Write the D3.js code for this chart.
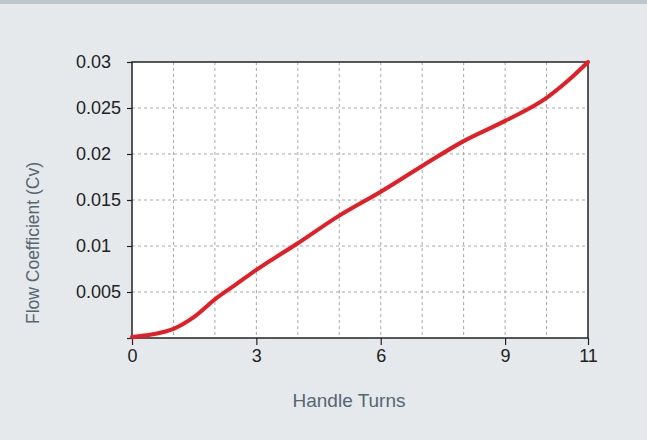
<!DOCTYPE html>
<html>
<head>
<meta charset="utf-8">
<script src="https://cdn.jsdelivr.net/npm/d3@7"></script>
<style>
  body { margin: 0; background: #e5e9ec; }
  svg { display: block; font-family: "Liberation Sans", Arial, sans-serif; }
</style>
</head>
<body>
<div id="chart"></div>
<script>
// curve
const turns = [0, 0.5, 1, 1.5, 2, 2.5, 3, 4, 5, 6, 7, 8, 9, 10, 10.5, 11];
const cv = [0.0001, 0.0004, 0.001, 0.0023, 0.0042, 0.0058, 0.0074, 0.0103, 0.0133, 0.0159, 0.0187, 0.0214, 0.0236, 0.0261, 0.0279, 0.0300];
const xTicks = [0, 3, 6, 9, 11];
const yTicks = [0.005, 0.01, 0.015, 0.02, 0.025, 0.03];
const yTickLabels = ["0.005", "0.01", "0.015", "0.02", "0.025", "0.03"];

const W = 647, H = 440;
const margin = {top: 62, right: 59, bottom: 102, left: 132};
const width = W - margin.left - margin.right,
      height = H - margin.top - margin.bottom;

const root = d3.select("#chart").append("svg")
    .attr("width", W)
    .attr("height", H);

root.append("rect").attr("width", W).attr("height", H).attr("fill", "#e5e9ec");
// grey strip at top
root.append("rect").attr("width", W).attr("height", 4).attr("fill", "#bdc6cd");

const svg = root.append("g")
    .attr("transform", `translate(${margin.left}, ${margin.top})`);

const x = d3.scaleLinear().domain([0, 11]).range([0, width]);
const y = d3.scaleLinear().domain([0, 0.03]).range([height, 0]);

// plot background
svg.append("rect")
    .attr("width", width)
    .attr("height", height)
    .attr("fill", "#fff");

// dashed grid
svg.append("g")
    .selectAll("line")
    .data(d3.range(1, 11))
    .join("line")
    .attr("x1", d => x(d)).attr("x2", d => x(d))
    .attr("y1", 0).attr("y2", height)
    .attr("stroke", "#a9a9a9")
    .attr("stroke-dasharray", "3,3");

svg.append("g")
    .selectAll("line")
    .data(yTicks.slice(0, -1))
    .join("line")
    .attr("x1", 0).attr("x2", width)
    .attr("y1", d => y(d)).attr("y2", d => y(d))
    .attr("stroke", "#a9a9a9")
    .attr("stroke-dasharray", "3,3");

// frame
svg.append("rect")
    .attr("width", width)
    .attr("height", height)
    .attr("fill", "none")
    .attr("stroke", "#222")
    .attr("stroke-width", 1.5);

// X axis
const xAxis = svg.append("g")
    .attr("transform", `translate(0, ${height})`)
    .call(d3.axisBottom(x).tickValues(xTicks).tickFormat(d3.format("d")).tickSize(7).tickPadding(4).tickSizeOuter(0));
xAxis.select(".domain").remove();
xAxis.selectAll("line").attr("stroke", "#222").attr("stroke-width", 1.2);
xAxis.selectAll("text").attr("fill", "#222").style("font-size", "18px");

// Y axis (labels left aligned)
const yAxis = svg.append("g")
    .call(d3.axisLeft(y).tickValues([0].concat(yTicks)).tickFormat("").tickSize(5).tickSizeOuter(0));
yAxis.select(".domain").remove();
yAxis.selectAll("line").attr("stroke", "#222").attr("stroke-width", 1.2);

svg.append("g")
    .selectAll("text")
    .data(yTicks)
    .join("text")
    .attr("x", 76 - margin.left)
    .attr("y", d => y(d))
    .attr("dy", "0.35em")
    .attr("fill", "#222")
    .style("font-size", "18px")
    .text((d, i) => yTickLabels[i]);

// the curve
const line = d3.line()
    .x((d, i) => x(turns[i]))
    .y(d => y(d))
    .curve(d3.curveMonotoneX);

svg.append("path")
    .datum(cv)
    .attr("d", line)
    .attr("fill", "none")
    .attr("stroke", "#e31e25")
    .attr("stroke-width", 4)
    .attr("stroke-linecap", "round");

// axis titles
root.append("text")
    .attr("x", 349)
    .attr("y", 407)
    .attr("text-anchor", "middle")
    .attr("fill", "#566671")
    .style("font-size", "19px")
    .text("Handle Turns");

root.append("text")
    .attr("transform", "translate(39, 243) rotate(-90)")
    .attr("text-anchor", "middle")
    .attr("fill", "#566671")
    .style("font-size", "17.5px")
    .text("Flow Coefficient (Cv)");
</script>
</body>
</html>
